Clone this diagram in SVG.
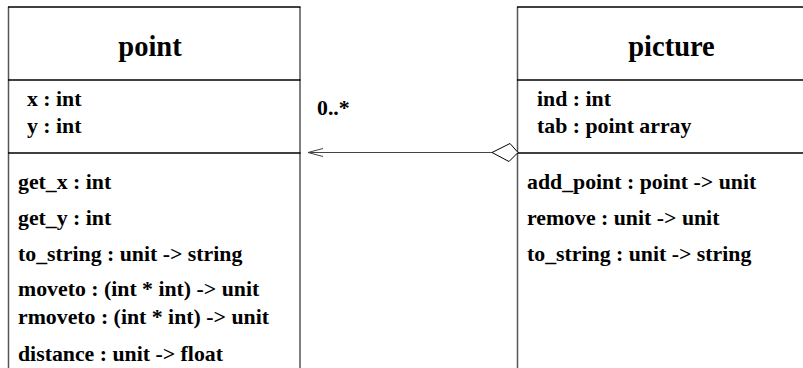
<svg xmlns="http://www.w3.org/2000/svg" width="803" height="368" viewBox="0 0 803 368">
  <style>
    .side { stroke: #555; stroke-width: 1.5; fill: none; }
    .rule { stroke: #000; stroke-width: 1.5; fill: none; }
    .title { font-family: "Liberation Serif", "Times New Roman", serif; font-weight: bold; font-size: 28.5px; text-anchor: middle; fill: #000; }
    .member { font-family: "Liberation Serif", "Times New Roman", serif; font-weight: bold; font-size: 21.8px; fill: #000; }
    .link { stroke: #444; stroke-width: 1; fill: none; }
  </style>

  <!-- class: point -->
  <g id="point">
    <rect x="8.5" y="7" width="291.5" height="370" fill="#fff" stroke="none"/>
    <line class="side" x1="8.5" y1="7" x2="8.5" y2="368"/>
    <line class="side" x1="300" y1="7" x2="300" y2="368"/>
    <line class="rule" x1="8" y1="7" x2="300.5" y2="7"/>
    <line class="rule" x1="8" y1="80" x2="300.5" y2="80"/>
    <line class="rule" x1="8" y1="153" x2="300.5" y2="153"/>
    <text class="title" x="150" y="56">point</text>
    <text class="member" x="27" y="106">x : int</text>
    <text class="member" x="27" y="133">y : int</text>
    <text class="member" x="18" y="189">get_x : int</text>
    <text class="member" x="18" y="225">get_y : int</text>
    <text class="member" x="18" y="261">to_string : unit -&gt; string</text>
    <text class="member" x="18" y="296">moveto : (int * int) -&gt; unit</text>
    <text class="member" x="18" y="324">rmoveto : (int * int) -&gt; unit</text>
    <text class="member" x="18" y="361">distance : unit -&gt; float</text>
  </g>

  <!-- class: picture -->
  <g id="picture">
    <rect x="517.5" y="7" width="290" height="370" fill="#fff" stroke="none"/>
    <line class="side" x1="517.5" y1="7" x2="517.5" y2="368"/>
    <line class="rule" x1="517" y1="7" x2="803" y2="7"/>
    <line class="rule" x1="517" y1="80" x2="803" y2="80"/>
    <line class="rule" x1="517" y1="153" x2="803" y2="153"/>
    <text class="title" x="671.5" y="56">picture</text>
    <text class="member" x="537" y="106">ind : int</text>
    <text class="member" x="537" y="133">tab : point array</text>
    <text class="member" x="527" y="189">add_point : point -&gt; unit</text>
    <text class="member" x="527" y="225">remove : unit -&gt; unit</text>
    <text class="member" x="527" y="261">to_string : unit -&gt; string</text>
  </g>

  <!-- aggregation: picture holds many points -->
  <g id="connectors">
    <line class="link" x1="308" y1="152.5" x2="492" y2="152.5"/>
    <polyline class="link" points="323,148.5 308,152.5 323,156.5"/>
    <polygon points="492,152.5 510,143.5 518,152.5 509,161.5" fill="#fff" stroke="#000" stroke-width="1"/>
    <text class="member" x="317" y="115">0..*</text>
  </g>
</svg>
